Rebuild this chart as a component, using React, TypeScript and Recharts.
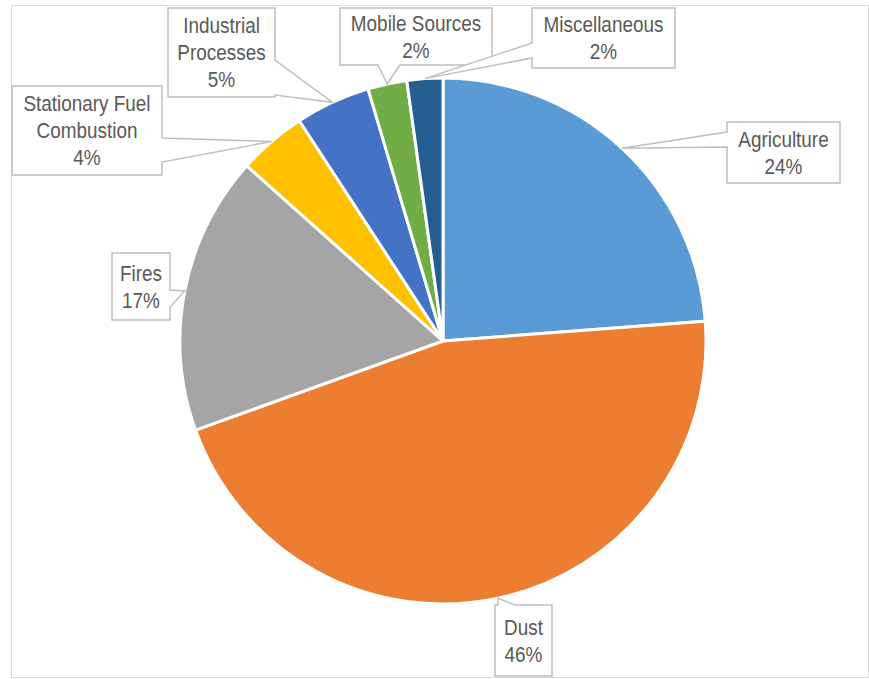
import { PieChart, Pie, Cell } from "recharts";

// PM emissions by source category
const categories = [
  "Agriculture",
  "Dust",
  "Fires",
  "Stationary Fuel\nCombustion",
  "Industrial\nProcesses",
  "Mobile Sources",
  "Miscellaneous",
];
const shares = [23.8, 45.7, 17.1, 4.2, 4.6, 2.4, 2.2];
const colors = ["#5B9BD5", "#ED7D31", "#A5A5A5", "#FFC000", "#4472C4", "#70AD47", "#255E91"];

// callout boxes: x, y, w, h, which side the pointer leaves from, and pointer base (a..b)
const callouts = [
  { x: 727, y: 122, w: 113, h: 61, side: "left", a: 132, b: 147 },
  { x: 495, y: 605, w: 57, h: 71, side: "top", a: 498, b: 515 },
  { x: 112, y: 253, w: 58, h: 67, side: "right", a: 290, b: 307 },
  { x: 12, y: 86, w: 150, h: 89, side: "right", a: 138, b: 162 },
  { x: 168, y: 8, w: 107, h: 89, side: "right", a: 60, b: 95 },
  { x: 340, y: 8, w: 152, h: 57, side: "bottom", a: 378, b: 400 },
  { x: 532, y: 8, w: 143, h: 60, side: "left", a: 43, b: 58 },
];

const data = categories.map((name, i) => ({ name, value: shares[i] }));

const RADIAN = Math.PI / 180;

function calloutPath(c: any, tx: number, ty: number) {
  const { x, y, w, h, side, a, b } = c;
  const r = x + w;
  const btm = y + h;
  const pts: number[][] = [[x, y]];
  if (side === "top") pts.push([a, y], [tx, ty], [b, y]);
  pts.push([r, y]);
  if (side === "right") pts.push([r, a], [tx, ty], [r, b]);
  pts.push([r, btm]);
  if (side === "bottom") pts.push([b, btm], [tx, ty], [a, btm]);
  pts.push([x, btm]);
  if (side === "left") pts.push([x, b], [tx, ty], [x, a]);
  return "M" + pts.map((p) => p.join(",")).join("L") + "Z";
}

const renderLabel = (props: any) => {
  const { cx, cy, midAngle, outerRadius, index, name, percent } = props;
  const c = callouts[index];
  const tx = cx + outerRadius * Math.cos(-midAngle * RADIAN);
  const ty = cy + outerRadius * Math.sin(-midAngle * RADIAN);
  const lines = [...String(name).split("\n"), `${Math.round(percent * 100)}%`];
  const lh = 27;
  const mid = c.y + c.h / 2;
  const first = mid - ((lines.length - 1) * lh) / 2;
  const centerX = c.x + c.w / 2;
  return (
    <g key={`lbl-${index}`}>
      <path d={calloutPath(c, tx, ty)} fill="#ffffff" stroke="#bfbfbf" strokeWidth={1.5} />
      <g transform={`translate(${centerX},0) scale(0.86,1)`}>
        <text
          x={0}
          textAnchor="middle"
          fill="#595959"
          fontSize={22}
          fontFamily="'Liberation Sans', Arial, sans-serif"
        >
          {lines.map((l, k) => (
            <tspan key={k} x={0} y={first + k * lh} dy="0.36em">
              {l}
            </tspan>
          ))}
        </text>
      </g>
    </g>
  );
};

export default function App() {
  return (
    <div style={{ position: "absolute", left: 0, top: 0, width: 869, height: 679, background: "#fff" }}>
      <div
        style={{
          position: "absolute",
          left: 11,
          top: 5,
          width: 856,
          height: 671,
          border: "1px solid #d9d9d9",
        }}
      />
      <div style={{ position: "absolute", left: 0, top: 0 }}>
        <PieChart width={869} height={679} margin={{ top: 0, right: 0, bottom: 0, left: 0 }}>
          <Pie
            data={data}
            dataKey="value"
            nameKey="name"
            cx={443}
            cy={341}
            outerRadius={263}
            startAngle={90}
            endAngle={-270}
            stroke="#ffffff"
            strokeWidth={3}
            labelLine={false}
            label={renderLabel}
            isAnimationActive={false}
          >
            {data.map((d, i) => (
              <Cell key={d.name} fill={colors[i]} />
            ))}
          </Pie>
        </PieChart>
      </div>
    </div>
  );
}
